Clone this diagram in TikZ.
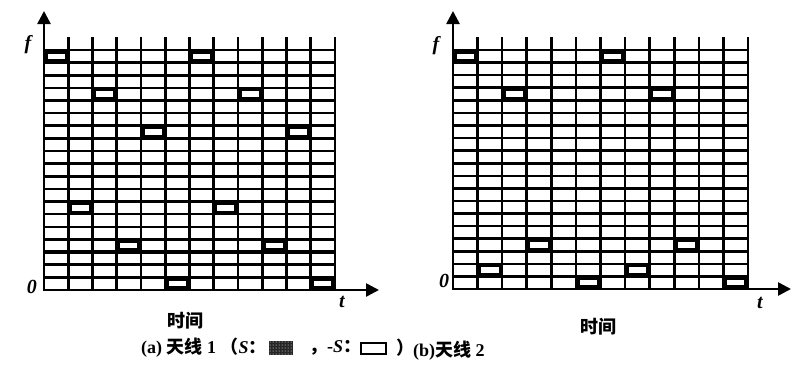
\documentclass[tikz,border=0pt]{standalone}
\usepackage{fontspec}
\setmainfont{Liberation Serif}
\newfontfamily\cjk{Noto Sans CJK SC}
\usetikzlibrary{arrows.meta, patterns}
\tikzset{
    gridline/.style={line width=2.6pt},
    heavyline/.style={line width=3.6pt},
    axisline/.style={line width=2.6pt, -{Triangle[length=13pt, width=13pt]}},
    hopcell/.style={line width=2.8pt},
    axislabel/.style={font=\fontsize{20}{20}\selectfont\bfseries\itshape, inner sep=0pt},
    captext/.style={font=\fontsize{18}{22}\selectfont\bfseries, inner sep=0pt}
}

\begin{document}
\begin{tikzpicture}[x=1pt, y=-1pt]
    \useasboundingbox (0,0) rectangle (802,372);

    % Panel (a): antenna 1
    \foreach \i in {0,...,18}
        \draw[gridline] (44,{50+\i*12.63}) -- (335,{50+\i*12.63});
    \foreach \j in {1,...,12}
        \draw[gridline] ({44+\j*24.25},37) -- ({44+\j*24.25},290);
    \draw[heavyline] (44,{50+12*12.63}) -- (335,{50+12*12.63});
    \draw[heavyline] (44,{50+16*12.63}) -- (335,{50+16*12.63});
    \foreach \c/\r in {1/1, 2/13, 3/4, 4/16, 5/7, 6/19, 7/1, 8/13, 9/4, 10/16, 11/7, 12/19}
        \draw[hopcell] ({44+(\c-1)*24.25+2.2},{50+(\r-1)*12.63+2.2}) rectangle ({44+\c*24.25-2.2},{50+\r*12.63-2.2});
    \draw[axisline] (44,291) -- (44,11);
    \draw[axisline] (43,290) -- (379,290);
    \node[axislabel] (fa) at (28,45) {f};
    \node[axislabel] (za) at (32,287) {0};
    \node[axislabel] (ta) at (342,302) {t};
    \node[captext] (timea) at (185,321) {\cjk 时间};

    % Panel (b): antenna 2
    \foreach \i in {0,...,18}
        \draw[gridline] (453,{50+\i*12.58}) -- (748,{50+\i*12.58});
    \foreach \j in {1,...,12}
        \draw[gridline] ({453+\j*24.58},37) -- ({453+\j*24.58},289);
    \foreach \c/\r in {1/1, 2/18, 3/4, 4/16, 6/19, 7/1, 8/18, 9/4, 10/16, 12/19}
        \draw[hopcell] ({453+(\c-1)*24.58+2.2},{50+(\r-1)*12.58+2.2}) rectangle ({453+\c*24.58-2.2},{50+\r*12.58-2.2});
    \draw[axisline] (453,290) -- (453,11);
    \draw[axisline] (452,289) -- (791,289);
    \node[axislabel] (fb) at (436,46) {f};
    \node[axislabel] (zb) at (444,281) {0};
    \node[axislabel] (tb) at (760,303) {t};
    \node[captext] (timeb) at (598,327) {\cjk 时间};

    % Caption
    \node[captext, anchor=west] (capa) at (141,348) {(a) {\cjk 天线} 1 {\cjk （}\textit{S}{\cjk ：}};
    \fill[black!85] (269,341) rectangle (293,355);
    \fill[pattern=dots, pattern color=white] (269,341) rectangle (293,355);
    \node[captext, anchor=west] (capneg) at (309,348) {{\cjk ，}-\textit{S}{\cjk ：}};
    \draw[line width=2.8pt] (361,343) rectangle (386,354);
    \node[captext, anchor=west] (capclose) at (396,348) {{\cjk ）}};
    \node[captext, anchor=west] (capb) at (413,351) {(b){\cjk 天线} 2};
\end{tikzpicture}
\end{document}
